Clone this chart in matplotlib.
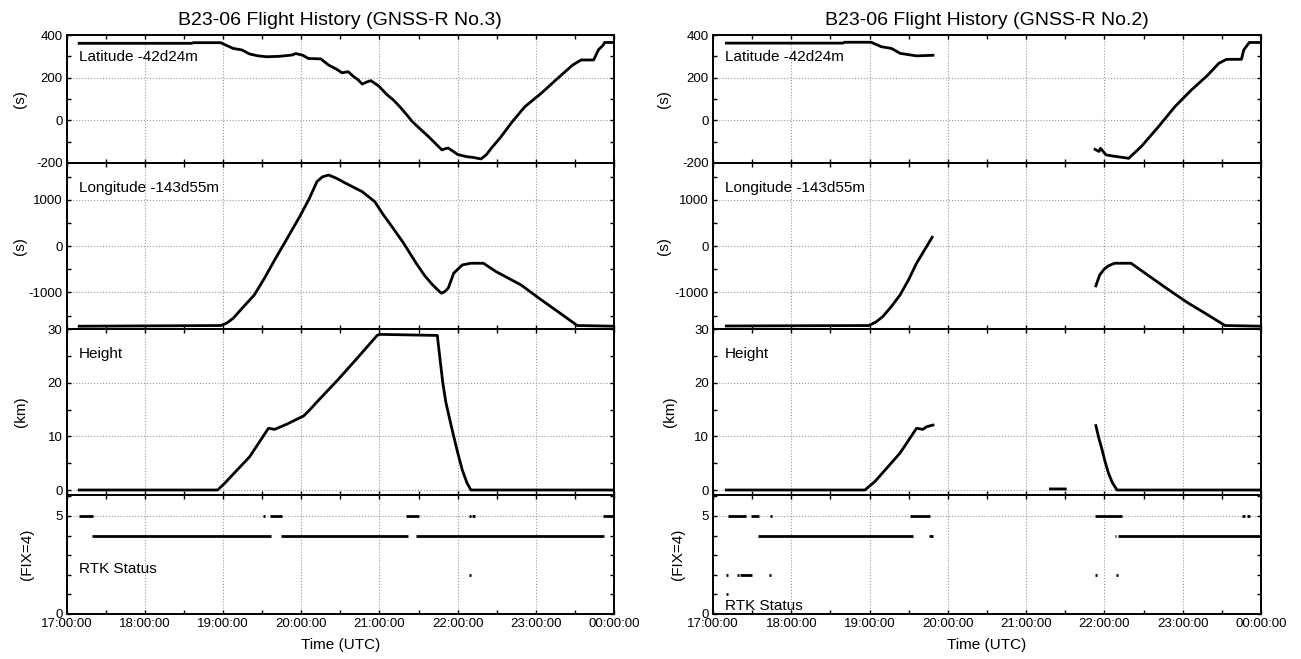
import matplotlib
matplotlib.use("Agg")
import matplotlib.pyplot as plt
import numpy as np
from matplotlib.ticker import MultipleLocator, FuncFormatter

plt.rcParams["font.family"] = ["Liberation Sans", "DejaVu Sans"]
plt.rcParams["axes.unicode_minus"] = False

nan = np.nan

# ---- GNSS-R No.3 (left column) ----  time in hours UTC
LAT3_T = [17.16, 18.60, 18.62, 18.97, 19.05, 19.13, 19.24, 19.34, 19.45, 19.56, 19.72,
          19.88, 19.93, 20.02, 20.09, 20.17, 20.25, 20.35, 20.45, 20.52, 20.60, 20.67,
          20.73, 20.78, 20.84, 20.89, 20.99, 21.10, 21.18, 21.26, 21.34, 21.42, 21.52,
          21.63, 21.72, 21.80, 21.84, 21.88, 21.95, 22.00, 22.11, 22.20, 22.30, 22.37,
          22.43, 22.54, 22.70, 22.86, 23.07, 23.28, 23.47, 23.58, 23.74, 23.80, 23.86,
          23.88, 24.00]
LAT3_V = [361, 361, 364, 364, 350, 337, 330, 311, 302, 298, 300,
          306, 313, 305, 290, 289, 288, 259, 240, 223, 228, 205,
          189, 170, 180, 186, 161, 119, 95, 64, 30, -6, -40,
          -77, -110, -139, -133, -130, -147, -160, -170, -174, -181, -160,
          -131, -84, -6, 64, 127, 197, 259, 283, 283, 330, 352,
          365, 365]

LON3_T = [17.16, 18.97, 19.05, 19.13, 19.25, 19.40, 19.53, 19.66, 19.82, 19.98, 20.10,
          20.20, 20.27, 20.35, 20.45, 20.57, 20.78, 20.94, 21.05, 21.16, 21.31, 21.47,
          21.58, 21.68, 21.75, 21.79, 21.83, 21.88, 21.95, 22.06, 22.17, 22.33, 22.49,
          22.81, 23.07, 23.34, 23.53, 24.00]
LON3_V = [-1730, -1715, -1660, -1556, -1330, -1052, -690, -296, 170, 640, 1020,
          1395, 1500, 1540, 1470, 1360, 1180, 964, 680, 424, 64, -368,
          -640, -836, -950, -1015, -990, -907, -583, -404, -368, -368, -548,
          -836, -1160, -1484, -1715, -1730]

HGT3_T = [17.16, 18.93, 19.02, 19.34, 19.58, 19.66, 19.82, 20.03, 20.10, 20.20, 20.46,
          20.73, 20.97, 21.00, 21.74, 21.77, 21.81, 21.85, 21.93, 22.00, 22.06, 22.12,
          22.17, 24.00]
HGT3_V = [0.0, 0.0, 1.25, 6.2, 11.5, 11.3, 12.3, 13.8, 14.8, 16.4, 20.4,
          24.8, 28.8, 29.0, 28.8, 25.0, 20.0, 16.3, 11.2, 7.0, 3.7, 1.3,
          0.0, 0.0]

RTK3_START = [17.16, 19.51, 19.60, 21.34, 22.14, 22.19, 23.86, 17.32, 19.74, 21.47, 22.15]
RTK3_END = [17.33, 19.53, 19.76, 21.50, 22.17, 22.22, 24.00, 19.61, 21.36, 23.87, 22.17]
RTK3_LEVEL = [5, 5, 5, 5, 5, 5, 5, 4, 4, 4, 2]

# ---- GNSS-R No.2 (right column) ----
LAT2_T = [17.17, 18.66, 18.68, 19.02, 19.15, 19.28, 19.39, 19.60, 19.81, nan,
          21.88, 21.93, 21.95, 22.02, 22.10, 22.31, 22.47, 22.69, 22.90, 23.11,
          23.32, 23.46, 23.56, 23.75, 23.78, 23.85, 24.00]
LAT2_V = [362, 362, 366, 366, 345, 337, 314, 302, 305, nan,
          -136, -146, -131, -162, -167, -178, -123, -30, 64, 142,
          212, 267, 286, 286, 330, 365, 365]

LON2_T = [17.17, 18.99, 19.08, 19.17, 19.28, 19.39, 19.50, 19.60, 19.80, nan,
          21.89, 21.94, 22.00, 22.05, 22.13, 22.34, 22.58, 22.79, 23.06, 23.32, 23.54, 24.00]
LON2_V = [-1725, -1715, -1640, -1520, -1300, -1052, -720, -368, 194, nan,
          -857, -620, -490, -425, -368, -368, -656, -907, -1218, -1484, -1715, -1730]

HGT2_T = [17.17, 18.94, 19.07, 19.39, 19.60, 19.68, 19.73, 19.81, nan,
          21.31, 21.50, nan,
          21.89, 21.93, 21.97, 22.01, 22.05, 22.10, 22.16, 24.00]
HGT2_V = [0.0, 0.0, 1.6, 6.9, 11.5, 11.3, 11.8, 12.1, nan,
          0.2, 0.2, nan,
          12.0, 9.6, 7.5, 5.2, 3.2, 1.4, 0.0, 0.0]

RTK2_START = [17.19, 17.49, 17.73, 19.52, 21.88, 23.76, 23.82, 17.57, 19.76, 22.13, 22.17,
              17.17, 17.31, 17.34, 17.72, 21.88, 22.15, 17.17]
RTK2_END = [17.42, 17.59, 17.75, 19.77, 22.22, 23.80, 23.86, 19.55, 19.81, 22.15, 24.00,
            17.19, 17.33, 17.50, 17.74, 21.90, 22.17, 17.19]
RTK2_LEVEL = [5, 5, 5, 5, 5, 5, 5, 4, 4, 4, 4,
              2, 2, 2, 2, 2, 2, 1]

TITLES = ["B23-06 Flight History (GNSS-R No.3)", "B23-06 Flight History (GNSS-R No.2)"]
HOUR_TICKS = [17, 18, 19, 20, 21, 22, 23, 24]

W, H = 1301, 659
ROW_EDGES = [35, 163, 329, 495, 614]        # pixel rows of panel borders
COL_EDGES = [(66.7, 614.0), (713.0, 1261.0)]


def hms(x, pos=None):
    return f"{int(round(x)) % 24:02d}:00:00"


def style_axis(ax, ymajor, yminor, show_x):
    ax.set_xlim(17, 24)
    ax.xaxis.set_major_locator(MultipleLocator(1))
    ax.xaxis.set_minor_locator(MultipleLocator(0.5))
    ax.xaxis.set_major_formatter(FuncFormatter(hms))
    ax.yaxis.set_major_locator(MultipleLocator(ymajor))
    ax.yaxis.set_minor_locator(MultipleLocator(yminor))
    ax.tick_params(which="both", direction="in", top=True, right=True,
                   labelsize=9.5, width=1, pad=3)
    ax.tick_params(which="major", length=3)
    ax.tick_params(which="minor", length=3)
    ax.grid(True, which="major", color="#9a9a9a", linestyle=":", linewidth=0.8)
    for s in ax.spines.values():
        s.set_linewidth(1.4)
    if not show_x:
        ax.tick_params(labelbottom=False)


def panel_label(ax, txt, ypos, xpos):
    ax.text(xpos, ypos, txt, transform=ax.transAxes, ha="left", va="center",
            fontsize=11)


fig = plt.figure(figsize=(W / 100, H / 100), dpi=100)

columns = [
    (LAT3_T, LAT3_V, LON3_T, LON3_V, HGT3_T, HGT3_V, RTK3_START, RTK3_END, RTK3_LEVEL, 0.38),
    (LAT2_T, LAT2_V, LON2_T, LON2_V, HGT2_T, HGT2_V, RTK2_START, RTK2_END, RTK2_LEVEL, 0.07),
]
label_x = [(-0.073, -0.071, -0.059), (-0.076, -0.066, -0.052)]

for c, (lat_t, lat_v, lon_t, lon_v, h_t, h_v, r_s, r_e, r_l, rtk_y) in enumerate(columns):
    x0, x1 = COL_EDGES[c]
    axes = []
    for r in range(4):
        top, bot = ROW_EDGES[r], ROW_EDGES[r + 1]
        ax = fig.add_axes([x0 / W, 1 - bot / H, (x1 - x0) / W, (bot - top) / H])
        axes.append(ax)
    a_lat, a_lon, a_h, a_r = axes
    tx = 0.022

    a_lat.plot(lat_t, lat_v, color="black", lw=2)
    a_lat.set_ylim(-200, 400)
    style_axis(a_lat, 200, 100, False)
    a_lat.set_ylabel("(s)", fontsize=11)
    a_lat.yaxis.set_label_coords(label_x[c][0], 0.5)
    panel_label(a_lat, "Latitude -42d24m", 0.83, tx)
    a_lat.set_title(TITLES[c], fontsize=14, pad=7)

    a_lon.plot(lon_t, lon_v, color="black", lw=2)
    a_lon.set_ylim(-1790, 1800)
    style_axis(a_lon, 1000, 500, False)
    a_lon.set_ylabel("(s)", fontsize=11)
    a_lon.yaxis.set_label_coords(label_x[c][0], 0.5)
    panel_label(a_lon, "Longitude -143d55m", 0.85, tx)

    a_h.plot(h_t, h_v, color="black", lw=2)
    a_h.set_ylim(-0.93, 30)
    style_axis(a_h, 10, 5, False)
    a_h.set_ylabel("(km)", fontsize=11)
    a_h.yaxis.set_label_coords(label_x[c][1], 0.5)
    panel_label(a_h, "Height", 0.85, tx)

    a_r.hlines(r_l, r_s, r_e, color="black", lw=2)
    a_r.set_ylim(0, 6.07)
    style_axis(a_r, 5, 1, True)
    a_r.set_ylabel("(FIX=4)", fontsize=11)
    a_r.yaxis.set_label_coords(label_x[c][2], 0.5)
    panel_label(a_r, "RTK Status", rtk_y, tx)
    a_r.set_xticks(HOUR_TICKS)
    a_r.set_xlabel("Time (UTC)", fontsize=11, labelpad=6)

fig.savefig("out.png", dpi=100)
